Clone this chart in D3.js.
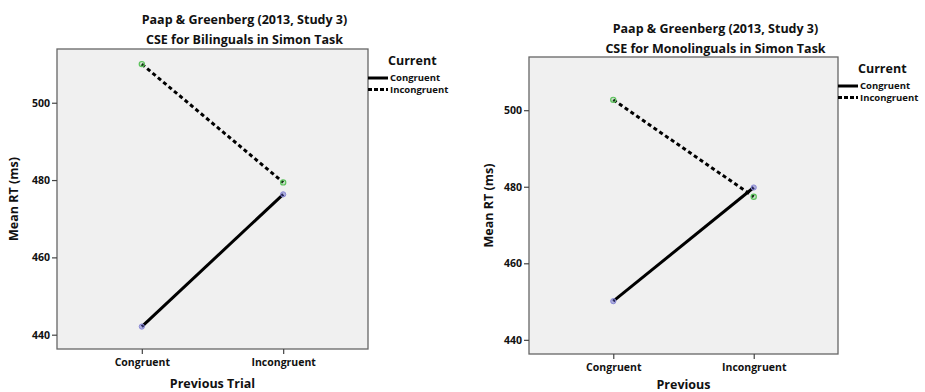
<!DOCTYPE html>
<meta charset="utf-8">
<script src="https://d3js.org/d3.v7.min.js"></script>
<style>
    body { margin: 0; background-color: white; }
    svg { display: block; }
    text { font-family: "Open Sans", "DejaVu Sans", sans-serif; font-weight: bold; fill: #111; }
</style>
<body>
<script>

    // x categories (previous trial) and legend entries (current trial)
    var previous = ["Congruent", "Incongruent"];
    var current = ["Congruent", "Incongruent"];
    var yTicks = [440, 460, 480, 500];

    // mean RT
    var biCongruent = [442.1, 476.3];
    var biIncongruent = [510.0, 479.4];
    var monoCongruent = [450.1, 479.8];
    var monoIncongruent = [502.7, 477.4];

    var titleLine1 = "Paap & Greenberg (2013, Study 3)";
    var biTitle = "CSE for Bilinguals in Simon Task";
    var monoTitle = "CSE for Monolinguals in Simon Task";

    var width = 925, height = 392;

    var svg = d3.select("body").append("svg")
        .attr("width", width)
        .attr("height", height);

    function drawPanel(opt) {
        var g = svg.append("g")
            .attr("transform", "translate(" + opt.left + "," + opt.top + ")");

        var x = d3.scalePoint()
            .domain(previous)
            .range([0, opt.w])
            .padding(0.6);

        var y = d3.scaleLinear()
            .domain([436.3, 513.9])
            .range([opt.h, 0]);

        // plot background
        g.append("rect")
            .attr("width", opt.w)
            .attr("height", opt.h)
            .attr("fill", "#f0f0f0")
            .attr("stroke", "#666")
            .attr("stroke-width", 1.3);

        // axes
        var yAxis = g.append("g")
            .call(d3.axisLeft(y).tickValues(yTicks).tickSize(5).tickPadding(2));
        var xAxis = g.append("g")
            .attr("transform", "translate(0," + opt.h + ")")
            .call(d3.axisBottom(x).tickSize(5).tickPadding(5));
        [yAxis, xAxis].forEach(function (a) {
            a.select(".domain").remove();
            a.selectAll("line").attr("stroke", "#444").attr("stroke-width", 1.2);
            a.selectAll("text")
                .style("font-family", '"Open Sans", "DejaVu Sans", sans-serif')
                .style("font-weight", "bold")
                .style("font-size", "10.5px")
                .attr("fill", "#111");
        });

        // series lines
        var line = d3.line()
            .x(function (d, i) { return x(previous[i]); })
            .y(function (d) { return y(d); });

        g.append("path")
            .datum(opt.incong)
            .attr("d", line)
            .attr("fill", "none")
            .attr("stroke", "#000")
            .attr("stroke-width", 3)
            .attr("stroke-dasharray", "4,3");

        g.append("path")
            .datum(opt.cong)
            .attr("d", line)
            .attr("fill", "none")
            .attr("stroke", "#000")
            .attr("stroke-width", 3);

        // point markers
        g.selectAll(".pc")
            .data(opt.cong)
            .enter().append("circle")
            .attr("cx", function (d, i) { return x(previous[i]); })
            .attr("cy", function (d) { return y(d); })
            .attr("r", 2.6)
            .attr("fill", "rgba(90,90,200,0.45)")
            .attr("stroke", "#8a8ad6")
            .attr("stroke-width", 1);

        g.selectAll(".pi")
            .data(opt.incong)
            .enter().append("circle")
            .attr("cx", function (d, i) { return x(previous[i]); })
            .attr("cy", function (d) { return y(d); })
            .attr("r", 2.6)
            .attr("fill", "rgba(80,180,80,0.25)")
            .attr("stroke", "#5cc25c")
            .attr("stroke-width", 1.2);

        // titles
        g.append("text")
            .attr("x", opt.w / 2 + 32)
            .attr("y", opt.t1)
            .attr("text-anchor", "middle")
            .style("font-size", "12.5px")
            .text(titleLine1);
        g.append("text")
            .attr("x", opt.w / 2 + 32)
            .attr("y", opt.t2)
            .attr("text-anchor", "middle")
            .style("font-size", "12.5px")
            .text(opt.title);

        // axis titles
        g.append("text")
            .attr("x", opt.w / 2)
            .attr("y", opt.xt)
            .attr("text-anchor", "middle")
            .style("font-size", "12.5px")
            .text(opt.xTitle);
        g.append("text")
            .attr("transform", "translate(" + opt.yt + "," + (opt.h / 2) + ") rotate(-90)")
            .attr("text-anchor", "middle")
            .style("font-size", "12.5px")
            .text("Mean RT (ms)");

        // legend
        var lg = g.append("g")
            .attr("transform", "translate(" + opt.w + "," + opt.lg + ")");
        lg.append("text")
            .attr("x", 20)
            .attr("y", 0)
            .style("font-size", "12.5px")
            .text("Current");
        current.forEach(function (c, i) {
            lg.append("line")
                .attr("x1", 0).attr("x2", 20)
                .attr("y1", 13 + i * 11.5).attr("y2", 13 + i * 11.5)
                .attr("stroke", "#000")
                .attr("stroke-width", 3)
                .attr("stroke-dasharray", i === 1 ? "4,2" : null);
            lg.append("text")
                .attr("x", 22)
                .attr("y", 13 + i * 11.5)
                .attr("dy", "0.35em")
                .style("font-size", "9.5px")
                .text(c);
        });
    }

    drawPanel({
        left: 57, top: 49, w: 311, h: 300,
        cong: biCongruent, incong: biIncongruent,
        title: biTitle, xTitle: "Previous Trial",
        t1: -25, t2: -5, xt: 339, yt: -39, lg: 16
    });

    drawPanel({
        left: 529, top: 57, w: 309, h: 297,
        cong: monoCongruent, incong: monoIncongruent,
        title: monoTitle, xTitle: "Previous",
        t1: -24, t2: -4, xt: 332, yt: -36, lg: 16
    });

</script>
</body>
